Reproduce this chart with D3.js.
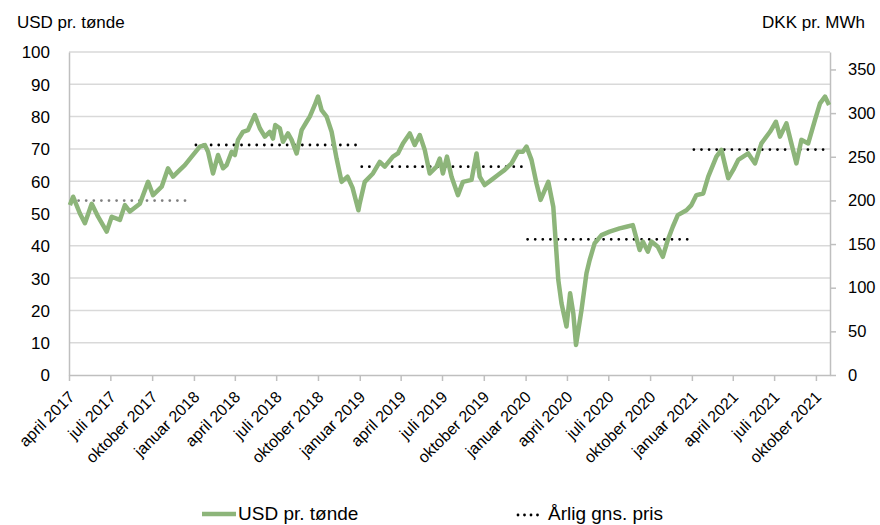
<!DOCTYPE html>
<html>
<head>
<meta charset="utf-8">
<script src="https://cdn.jsdelivr.net/npm/d3@7"></script>
<style>
  body { margin: 0; background: #fff; }
  text { font-family: "Liberation Sans", Arial, sans-serif; fill: #000; }
</style>
</head>
<body>
<div id="chart"></div>
<script>
// Brent, USD pr. tønde
const priceDates = [
  "2017-04-03","2017-04-10","2017-04-25","2017-05-06","2017-05-21","2017-06-04","2017-06-23","2017-07-04",
  "2017-07-22","2017-08-02","2017-08-13","2017-09-04","2017-09-22","2017-10-03","2017-10-22","2017-11-05",
  "2017-11-16","2017-12-01","2017-12-12","2017-12-27",
  "2018-01-14","2018-01-25","2018-02-01","2018-02-12","2018-02-23","2018-03-06","2018-03-14","2018-03-25",
  "2018-04-01","2018-04-08","2018-04-19","2018-04-30","2018-05-15","2018-05-26","2018-06-06","2018-06-17",
  "2018-06-24","2018-06-29","2018-07-09","2018-07-16","2018-07-27","2018-08-04","2018-08-15","2018-08-26",
  "2018-09-06","2018-09-13","2018-09-24","2018-10-01","2018-10-09","2018-10-20","2018-10-31","2018-11-11",
  "2018-11-22","2018-12-05","2018-12-16","2018-12-29",
  "2019-01-01","2019-01-12","2019-01-30","2019-02-14","2019-02-25","2019-03-15","2019-03-26","2019-04-06",
  "2019-04-21","2019-05-02","2019-05-13","2019-05-24","2019-06-04","2019-06-19","2019-06-26","2019-07-03",
  "2019-07-12","2019-07-22","2019-08-05","2019-08-16","2019-09-04","2019-09-15","2019-09-22","2019-10-03",
  "2019-10-18","2019-11-01","2019-11-16","2019-12-01","2019-12-15","2019-12-26",
  "2020-01-03","2020-01-14","2020-01-25","2020-02-03","2020-02-20","2020-03-02","2020-03-13","2020-03-20",
  "2020-03-31","2020-04-08","2020-04-15","2020-04-21","2020-05-03","2020-05-14","2020-05-21","2020-06-01",
  "2020-06-16","2020-07-04","2020-07-26","2020-08-10","2020-08-24","2020-09-01","2020-09-08","2020-09-15",
  "2020-09-26","2020-10-04","2020-10-18","2020-10-29","2020-11-09","2020-11-20","2020-12-01","2020-12-20",
  "2020-12-31",
  "2021-01-11","2021-01-26","2021-02-06","2021-02-24","2021-03-07","2021-03-22","2021-04-02","2021-04-13",
  "2021-05-05","2021-05-20","2021-06-03","2021-06-22","2021-07-05","2021-07-14","2021-07-28","2021-08-08",
  "2021-08-19","2021-08-30","2021-09-14","2021-09-29","2021-10-10","2021-10-21","2021-10-30"
];
const priceValues = [
  52.6, 55.2, 50, 47, 53, 49, 44.4, 49,
  48, 52.6, 50.6, 53, 59.8, 55.7, 58.3, 64,
  61.4, 63.5, 65, 67.6,
  70.7, 71.2, 69.1, 62.4, 68.1, 64, 65, 69.1,
  68.1, 72.8, 75.3, 75.8, 80.5, 76.4, 73.8, 75.3,
  73.2, 77.4, 76.4, 72.2, 74.8, 72.8, 68.6, 75.8,
  78.4, 80, 83.6, 86.2, 82, 80, 75.3, 67,
  59.8, 61.4, 58, 51,
  53.2, 59.8, 62.4, 66, 64.5, 67.6, 68.6, 71.7,
  74.8, 71.2, 74.3, 69.7, 62.4, 64.5, 67, 62.4,
  67.6, 61.4, 55.7, 59.8, 60.4, 68.6, 61.4, 58.8,
  60.4, 61.9, 63.5, 65.5, 69.1, 69.1,
  70.7, 66.6, 59.3, 54.2, 59.8, 52, 29.4, 22.2,
  15, 25.3, 19.1, 9.3, 20.1, 31.5, 35.6, 40.8,
  43.3, 44.4, 45.4, 45.9, 46.4, 42.3, 38.7, 41.3,
  38.2, 41.3, 39.7, 36.6, 41.8, 45.9, 49.5, 51,
  52.6,
  55.7, 56.2, 61.4, 67.6, 69.7, 60.9, 63.5, 66.6,
  68.6, 65.5, 71.7, 75.3, 78.4, 73.8, 77.9, 71.7,
  65.5, 72.8, 71.7, 79, 84.1, 86.2, 83.6
];

// Årlig gennemsnitspris
const avgStart = ["2017-04-01", "2018-01-01", "2019-01-01", "2020-01-01", "2021-01-01"];
const avgEnd   = ["2018-01-01", "2019-01-01", "2020-01-01", "2021-01-01", "2021-11-01"];
const avgValues = [54, 71.2, 64.5, 42, 69.8];

// axes
const xStart = "2017-04-01";
const xEnd = "2021-11-01";
const monthNames = ["januar", "", "", "april", "", "", "juli", "", "", "oktober", "", ""];
const leftTicks = [0, 10, 20, 30, 40, 50, 60, 70, 80, 90, 100];
const rightTicks = [0, 50, 100, 150, 200, 250, 300, 350];
const rightMax = 370; // DKK pr. MWh at 100 USD pr. tønde

const parse = d3.timeParse("%Y-%m-%d");
const prices = priceDates.map((d, i) => ({ date: parse(d), value: priceValues[i] }));
const avgs = avgValues.map((v, i) => ({ start: parse(avgStart[i]), end: parse(avgEnd[i]), value: v }));

const width = 880, height = 525;
const margin = { top: 52, right: 50, bottom: 150, left: 69 };
const innerW = width - margin.left - margin.right;
const innerH = height - margin.top - margin.bottom;

const svg = d3.select("#chart").append("svg")
  .attr("width", width)
  .attr("height", height);

const g = svg.append("g").attr("transform", `translate(${margin.left},${margin.top})`);

const x = d3.scaleTime().domain([parse(xStart), parse(xEnd)]).range([0, innerW]);
const y = d3.scaleLinear().domain([0, 100]).range([innerH, 0]);
const y2 = d3.scaleLinear().domain([0, rightMax]).range([innerH, 0]);

// gridlines
g.append("g")
  .selectAll("line")
  .data(leftTicks.filter(d => d > 0))
  .join("line")
  .attr("x1", 0).attr("x2", innerW)
  .attr("y1", d => y(d)).attr("y2", d => y(d))
  .attr("stroke", "#d9d9d9")
  .attr("stroke-width", 1.5);

// left axis
const yAxis = g.append("g")
  .call(d3.axisLeft(y).tickValues(leftTicks).tickSize(0).tickPadding(19));
yAxis.select(".domain").attr("stroke", "#bfbfbf").attr("stroke-width", 1.5);
yAxis.selectAll("text").attr("font-size", 17).attr("dy", "0.35em");

// right axis
const y2Axis = g.append("g")
  .attr("transform", `translate(${innerW},0)`)
  .call(d3.axisRight(y2).tickValues(rightTicks).tickSize(6).tickPadding(12).tickSizeOuter(0));
y2Axis.select(".domain").attr("stroke", "#bfbfbf").attr("stroke-width", 1.5);
y2Axis.selectAll(".tick line").attr("stroke", "#bfbfbf").attr("stroke-width", 1.5);
y2Axis.selectAll("text").attr("font-size", 16.5);

// x axis
const xTicks = d3.timeMonth.every(3).range(parse(xStart), parse(xEnd));
const xAxis = g.append("g")
  .attr("transform", `translate(0,${innerH})`)
  .call(d3.axisBottom(x)
    .tickValues(xTicks)
    .tickSize(6)
    .tickSizeOuter(0)
    .tickFormat(d => `${monthNames[d.getMonth()]} ${d.getFullYear()}`));
xAxis.select(".domain").attr("stroke", "#bfbfbf").attr("stroke-width", 1.5);
xAxis.selectAll(".tick line").attr("stroke", "#bfbfbf").attr("stroke-width", 1.5);
xAxis.selectAll("text")
  .attr("font-size", 16)
  .attr("text-anchor", "end")
  .attr("dy", null)
  .attr("y", 0)
  .attr("transform", "translate(6,23) rotate(-45)");

// annual averages
g.append("g")
  .selectAll("line")
  .data(avgs)
  .join("line")
  .attr("x1", d => x(d.start) + 2)
  .attr("x2", d => x(d.end) - 2)
  .attr("y1", d => y(d.value))
  .attr("y2", d => y(d.value))
  .attr("stroke", (d, i) => i === 0 ? "#7f7f7f" : "#000")
  .attr("stroke-width", 2.8)
  .attr("stroke-linecap", "round")
  .attr("stroke-dasharray", "0,7.6");

// price line
const line = d3.line().x(d => x(d.date)).y(d => y(d.value));
g.append("path")
  .datum(prices)
  .attr("fill", "none")
  .attr("stroke", "#8db57a")
  .attr("stroke-width", 4.5)
  .attr("stroke-linejoin", "round")
  .attr("d", line);

// axis titles
svg.append("text").attr("x", 17).attr("y", 28).attr("font-size", 17).text("USD pr. tønde");
svg.append("text").attr("x", 865).attr("y", 28).attr("font-size", 17).attr("text-anchor", "end").text("DKK pr. MWh");

// legend
const legend = svg.append("g");
legend.append("line")
  .attr("x1", 202).attr("x2", 236).attr("y1", 514).attr("y2", 514)
  .attr("stroke", "#8db57a").attr("stroke-width", 4.5);
legend.append("text").attr("x", 238).attr("y", 520).attr("font-size", 19).text("USD pr. tønde");
legend.append("line")
  .attr("x1", 518).attr("x2", 544).attr("y1", 515).attr("y2", 515)
  .attr("stroke", "#000").attr("stroke-width", 2.8)
  .attr("stroke-linecap", "round").attr("stroke-dasharray", "0,6.5");
legend.append("text").attr("x", 548).attr("y", 520).attr("font-size", 19).text("Årlig gns. pris");
</script>
</body>
</html>
